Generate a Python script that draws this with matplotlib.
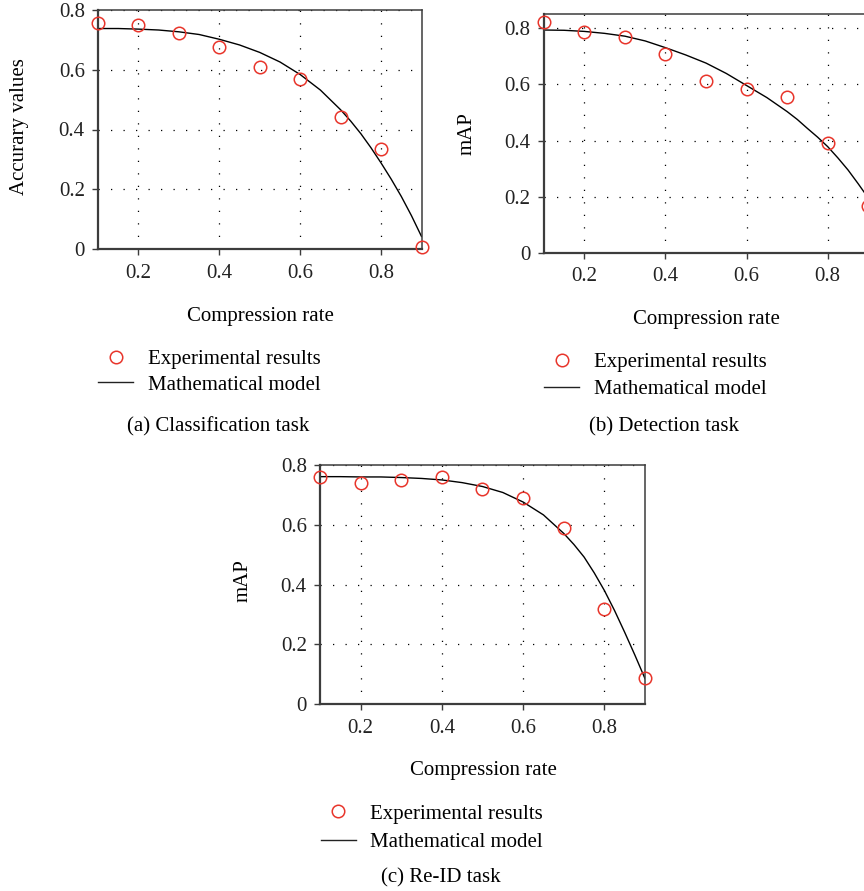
import matplotlib
matplotlib.use("Agg")
import matplotlib.pyplot as plt
from matplotlib.lines import Line2D

plt.rcParams['font.family'] = ['Liberation Serif', 'DejaVu Serif']

# ---------------- data ----------------
rates = [0.1, 0.2, 0.3, 0.4, 0.5, 0.6, 0.7, 0.8, 0.9]

cls_exp = [0.756, 0.751, 0.724, 0.677, 0.610, 0.568, 0.443, 0.336, 0.008]
det_exp = [0.824, 0.786, 0.769, 0.710, 0.611, 0.585, 0.556, 0.391, 0.168]
reid_exp = [0.760, 0.740, 0.750, 0.760, 0.720, 0.689, 0.590, 0.319, 0.088]

model_x = [0.10, 0.15, 0.20, 0.25, 0.30, 0.35, 0.40, 0.45, 0.50,
           0.55, 0.60, 0.65, 0.70, 0.725, 0.75, 0.775, 0.80, 0.825,
           0.85, 0.875, 0.90]
cls_model = [0.738, 0.738, 0.736, 0.733, 0.727, 0.718, 0.702, 0.683, 0.658,
             0.626, 0.584, 0.532, 0.466, 0.428, 0.386, 0.339, 0.288, 0.234,
             0.176, 0.112, 0.042]
det_model = [0.794, 0.793, 0.789, 0.782, 0.772, 0.755, 0.731, 0.705, 0.676,
             0.639, 0.596, 0.553, 0.503, 0.475, 0.443, 0.412, 0.378, 0.338,
             0.295, 0.246, 0.195]
reid_model = [0.761, 0.761, 0.760, 0.760, 0.758, 0.755, 0.750, 0.741, 0.728,
              0.708, 0.676, 0.633, 0.571, 0.534, 0.492, 0.439, 0.380, 0.313,
              0.240, 0.164, 0.085]

xticks = [0.2, 0.4, 0.6, 0.8]
yticks = [0, 0.2, 0.4, 0.6, 0.8]
ytick_labels = ['0', '0.2', '0.4', '0.6', '0.8']

xlabel = 'Compression rate'
legend_labels = ['Experimental results', 'Mathematical model']

W, H = 864, 891
fig = plt.figure(figsize=(W / 100, H / 100), dpi=100)

RED = '#e8352b'
SPINE = '#3c3c3c'
FS = 15


def fx(px):
    return px / W


def fy(py):
    return 1 - py / H


def make_panel(box, exp, model, ylim, ylabel, xlab_c, ylab_c,
               leg_x, leg_y, caption, cap_c, spacing):
    left, right, top, bottom = box
    ax = fig.add_axes([fx(left), fy(bottom), fx(right - left), (bottom - top) / H])
    ax.set_xlim(0.1, 0.9)
    ax.set_ylim(*ylim)
    ax.set_xticks(xticks)
    ax.set_xticklabels([f'{t:.1f}' for t in xticks])
    ax.set_yticks(yticks)
    ax.set_yticklabels(ytick_labels)
    ax.tick_params(axis='both', labelsize=FS, colors='#222222', direction='out',
                   width=1.0, color=SPINE)
    ax.tick_params(axis='y', length=4.5, pad=5)
    ax.tick_params(axis='x', length=4.5, pad=6)
    for s in ax.spines.values():
        s.set_color(SPINE)
        s.set_linewidth(1.1)
    ax.spines['left'].set_linewidth(1.6)
    ax.spines['bottom'].set_linewidth(1.6)
    for t in xticks:
        ax.axvline(t, color='black', lw=0.9, linestyle=(0, (1, 9)), zorder=0.5)
    for t in yticks[1:]:
        ax.axhline(t, color='black', lw=0.9, linestyle=(0, (1, 9)), zorder=0.5)

    ax.plot(model_x, model, color='black', lw=1.0, zorder=2)
    ax.plot(rates, exp, linestyle='none', marker='o', markersize=9,
            markerfacecolor='none', markeredgecolor=RED, markeredgewidth=1.1,
            clip_on=False, zorder=3)

    ax.set_xlabel(xlabel, fontsize=FS, va='center')
    ax.xaxis.set_label_coords(fx(xlab_c[0]), fy(xlab_c[1]), transform=fig.transFigure)
    ax.set_ylabel(ylabel, fontsize=FS, va='center')
    ax.yaxis.set_label_coords(fx(ylab_c[0]), fy(ylab_c[1]), transform=fig.transFigure)

    handles = [
        Line2D([], [], linestyle='none', marker='o', markersize=9,
               markerfacecolor='none', markeredgecolor=RED, markeredgewidth=1.1),
        Line2D([], [], color='#222222', lw=1.0),
    ]
    fig.legend(handles, legend_labels, loc='center left',
               bbox_to_anchor=(fx(leg_x), fy(leg_y)), bbox_transform=fig.transFigure,
               frameon=False, fontsize=FS, handlelength=1.7, handletextpad=0.68,
               borderpad=0, borderaxespad=0, labelspacing=spacing)
    fig.text(fx(cap_c[0]), fy(cap_c[1]), caption, fontsize=FS,
             ha='center', va='center')
    return ax


make_panel((98, 421.5, 10, 249), cls_exp, cls_model, (0, 0.8), 'Accurary values',
           (260, 316), (19.5, 127), 98, 372, '(a) Classification task', (218.5, 427), 0.30)
make_panel((543.8, 868.3, 14.3, 252.7), det_exp, det_model, (0, 0.85), 'mAP',
           (706, 320), (467, 134), 544, 376, '(b) Detection task', (664, 427), 0.36)
make_panel((320, 645, 465, 704), reid_exp, reid_model, (0, 0.8), 'mAP',
           (483, 770), (243.5, 581), 320.7, 828, '(c) Re-ID task', (441, 878), 0.41)

fig.savefig('out.png', dpi=100)
